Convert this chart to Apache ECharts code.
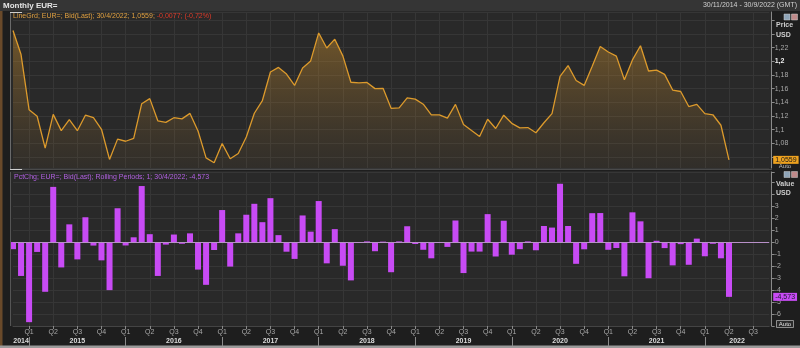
<!DOCTYPE html>
<html><head><meta charset="utf-8">
<script src="https://cdn.jsdelivr.net/npm/echarts@6/dist/echarts.min.js"></script>
<style>html,body{margin:0;padding:0;background:#1e1e1e;}#c{width:800px;height:348px;}</style>
</head><body><div id="c"></div>
<script>
const months = ['2014-11','2014-12',
'2015-01','2015-02','2015-03','2015-04','2015-05','2015-06','2015-07','2015-08','2015-09','2015-10','2015-11','2015-12',
'2016-01','2016-02','2016-03','2016-04','2016-05','2016-06','2016-07','2016-08','2016-09','2016-10','2016-11','2016-12',
'2017-01','2017-02','2017-03','2017-04','2017-05','2017-06','2017-07','2017-08','2017-09','2017-10','2017-11','2017-12',
'2018-01','2018-02','2018-03','2018-04','2018-05','2018-06','2018-07','2018-08','2018-09','2018-10','2018-11','2018-12',
'2019-01','2019-02','2019-03','2019-04','2019-05','2019-06','2019-07','2019-08','2019-09','2019-10','2019-11','2019-12',
'2020-01','2020-02','2020-03','2020-04','2020-05','2020-06','2020-07','2020-08','2020-09','2020-10','2020-11','2020-12',
'2021-01','2021-02','2021-03','2021-04','2021-05','2021-06','2021-07','2021-08','2021-09','2021-10','2021-11','2021-12',
'2022-01','2022-02','2022-03','2022-04','2022-05','2022-06','2022-07','2022-08','2022-09'];

const price = [1.2450,1.2098,1.1290,1.1196,1.0731,1.1224,1.0986,1.1147,1.0985,1.1211,1.1177,1.1006,1.0565,1.0862,
1.0831,1.0873,1.1380,1.1454,1.1130,1.1106,1.1175,1.1158,1.1238,1.0980,1.0588,1.0517,
1.0797,1.0576,1.0652,1.0894,1.1240,1.1426,1.1843,1.1910,1.1813,1.1646,1.1903,1.2005,
1.2414,1.2193,1.2323,1.2079,1.1693,1.1684,1.1690,1.1600,1.1604,1.1312,1.1318,1.1466,
1.1446,1.1372,1.1217,1.1216,1.1170,1.1370,1.1076,1.0987,1.0899,1.1152,1.1017,1.1212,
1.1093,1.1026,1.1031,1.0955,1.1101,1.1234,1.1779,1.1936,1.1719,1.1647,1.1927,1.2215,
1.2136,1.2075,1.1730,1.2020,1.2227,1.1858,1.1870,1.1809,1.1579,1.1558,1.1338,1.1370,
1.1235,1.1218,1.1065,1.0559];

const pctChange = [-0.60,-2.83,-6.68,-0.83,-4.15,4.59,-2.12,1.47,-1.45,2.06,-0.30,-1.53,-4.01,2.81,
-0.29,0.39,4.66,0.65,-2.83,-0.22,0.62,-0.15,0.72,-2.30,-3.57,-0.67,
2.66,-2.05,0.72,2.27,3.18,1.65,3.65,0.57,-0.81,-1.41,2.21,0.86,
3.41,-1.78,1.07,-1.98,-3.20,-0.08,0.05,-0.77,0.03,-2.52,0.05,1.31,
-0.17,-0.65,-1.36,-0.01,-0.41,1.79,-2.59,-0.80,-0.80,2.32,-1.21,1.77,
-1.06,-0.60,0.05,-0.69,1.33,1.20,4.85,1.33,-1.82,-0.61,2.40,2.41,
-0.65,-0.50,-2.86,2.47,1.72,-3.02,0.10,-0.51,-1.95,-0.18,-1.90,0.28,
-1.19,-0.15,-1.36,-4.573];

const priceTicks = [1.08,1.1,1.12,1.14,1.16,1.18,1.2,1.22];
const valueTicks = [3,2,1,0,-1,-2,-3,-4,-5,-6];
const quarterNames = {'01':'Q1','04':'Q2','07':'Q3','10':'Q4'};
const yearLabelMonths = ['2014-12','2015-07','2016-07','2017-07','2018-07','2019-07','2020-07','2021-07','2022-05'];

const isQuarter = (i) => quarterNames[months[i].slice(5)] !== undefined;
const isJan = (i) => months[i].slice(5) === '01';
const fmtNum = (v, d) => String(+v.toFixed(d)).replace('.', ',');

const chart = echarts.init(document.getElementById('c'), null, {renderer: 'canvas'});
const FONT = 'Liberation Sans, Arial, sans-serif';
const gridColor = '#363636';
const clear = 'rgba(0,0,0,0)';

chart.setOption({
  backgroundColor: '#1e1e1e',
  animation: false,
  textStyle: {fontFamily: FONT},
  grid: [
    {left: 13, right: 30.8, top: 12, bottom: 180},
    {left: 13, right: 30.8, top: 172, bottom: 22}
  ],
  xAxis: [
    {
      type: 'category', gridIndex: 0, data: months, boundaryGap: false,
      position: 'bottom', offset: 169,
      axisLine: {show: false},
      axisTick: {show: true, interval: (i) => isJan(i), length: 9, lineStyle: {color: '#8a8a8a'}},
      axisLabel: {
        show: true, margin: 1, showMinLabel: true, showMaxLabel: true,
        interval: (i) => yearLabelMonths.includes(months[i]),
        formatter: (v) => v.slice(0, 4),
        color: '#dcdcdc', fontSize: 7, fontWeight: 'bold', fontFamily: FONT
      },
      splitLine: {show: true, interval: (i) => isQuarter(i), lineStyle: {color: gridColor, width: 1}}
    },
    {
      type: 'category', gridIndex: 1, data: months, boundaryGap: false,
      position: 'bottom',
      axisLine: {show: true, onZero: false, lineStyle: {color: '#444'}},
      axisTick: {show: true, interval: (i) => isQuarter(i), length: 3, lineStyle: {color: '#8a8a8a'}},
      axisLabel: {
        show: true, margin: 3, showMinLabel: true, showMaxLabel: true,
        interval: (i) => isQuarter(i),
        formatter: (v) => quarterNames[v.slice(5)] || '',
        color: '#a8a8a8', fontSize: 7, fontFamily: FONT
      },
      splitLine: {show: true, interval: (i) => isQuarter(i), lineStyle: {color: gridColor, width: 1}}
    }
  ],
  yAxis: [
    {
      type: 'value', gridIndex: 0, position: 'right', offset: 2.5,
      min: 1.044, max: 1.272, splitNumber: 12,
      axisLine: {show: true, lineStyle: {color: '#8a8a8a'}},
      axisTick: {show: true, length: 3, lineStyle: {color: '#8a8a8a'}},
      axisLabel: {
        show: true, margin: 3, color: '#a8a8a8', fontSize: 7, fontFamily: FONT,
        showMinLabel: false, showMaxLabel: false,
        formatter: (v) => {
          const t = priceTicks.find(p => Math.abs(p - v) < 1e-6);
          if (t === undefined) return '';
          const s = fmtNum(t, 2);
          return t === 1.2 ? '{b|' + s + '}' : s;
        },
        rich: {b: {color: '#f0f0f0', fontWeight: 'bold', fontSize: 7, fontFamily: FONT}}
      },
      splitLine: {show: true, lineStyle: {color: gridColor}}
    },
    {
      type: 'value', gridIndex: 1, position: 'right', offset: 2.5,
      min: -7, max: 5.83, interval: 1,
      axisLine: {show: true, lineStyle: {color: '#8a8a8a'}},
      axisTick: {show: true, length: 3, lineStyle: {color: '#8a8a8a'}},
      axisLabel: {
        show: true, margin: 3, color: '#a8a8a8', fontSize: 7, fontFamily: FONT,
        formatter: (v) => valueTicks.some(t => Math.abs(t - v) < 1e-6) ? String(Math.round(v)) : ''
      },
      splitLine: {show: true, lineStyle: {color: gridColor}}
    }
  ],
  series: [
    {
      type: 'line', xAxisIndex: 0, yAxisIndex: 0, data: price,
      symbol: 'none', smooth: false,
      lineStyle: {color: '#dc9a2c', width: 1.3},
      areaStyle: {
        color: new echarts.graphic.LinearGradient(0, 0, 0, 1, [
          {offset: 0, color: 'rgba(215,150,45,0.6)'},
          {offset: 1, color: 'rgba(150,110,50,0.10)'}
        ])
      },
      markLine: {
        silent: true, symbol: 'none', precision: 4,
        data: [{yAxis: price[price.length - 1]}],
        lineStyle: {color: clear, width: 1, type: 'solid'},
        label: {
          show: true, position: 'end', distance: 4,
          formatter: () => fmtNum(price[price.length - 1], 4),
          backgroundColor: '#eea21f', color: '#1a1a1a', fontSize: 7, fontFamily: FONT,
          padding: [1, 2, 0, 2]
        }
      }
    },
    {
      type: 'bar', xAxisIndex: 1, yAxisIndex: 1, data: pctChange,
      barWidth: 6, clip: false,
      itemStyle: {color: '#c84bf5'},
      markLine: {
        silent: true, symbol: 'none', precision: 3,
        data: [
          {yAxis: 0, lineStyle: {color: '#b890c8', width: 1, type: 'solid'}, label: {show: false}},
          {
            yAxis: pctChange[pctChange.length - 1], lineStyle: {color: clear, width: 1, type: 'solid'},
            label: {
              show: true, position: 'end', distance: 4,
              formatter: () => fmtNum(pctChange[pctChange.length - 1], 3),
              backgroundColor: '#c84bf5', color: '#1a1a2a', fontSize: 7, fontFamily: FONT,
              padding: [1, 2, 0, 2]
            }
          }
        ]
      }
    }
  ],
  graphic: [
    {type: 'rect', z: -20, shape: {x: 0, y: 0, width: 800, height: 11}, style: {fill: '#353535'}},
    {type: 'rect', z: -20, shape: {x: 10, y: 11, width: 762, height: 158}, style: {fill: '#292929'}},
    {type: 'rect', z: -20, shape: {x: 10, y: 171, width: 762, height: 155}, style: {fill: '#292929'}},
    {type: 'rect', z: -19, shape: {x: 0, y: 11, width: 2.5, height: 337}, style: {fill: '#6a4a2a'}},
    {type: 'rect', z: -19, shape: {x: 0, y: 345.5, width: 800, height: 3}, style: {fill: '#9a9a9a'}},
    {type: 'line', z: 50, shape: {x1: 10.5, y1: 12, x2: 10.5, y2: 169}, style: {stroke: '#6a6a6a', lineWidth: 1}},
    {type: 'line', z: 50, shape: {x1: 10.5, y1: 172, x2: 10.5, y2: 326}, style: {stroke: '#555', lineWidth: 1}},
    {type: 'line', z: 50, shape: {x1: 10, y1: 169.5, x2: 772, y2: 169.5}, style: {stroke: '#4a4a4a', lineWidth: 1}},
    {type: 'line', z: 51, shape: {x1: 10, y1: 169.5, x2: 22, y2: 169.5}, style: {stroke: '#cfcfcf', lineWidth: 1}},
    {type: 'line', z: 51, shape: {x1: 10, y1: 12.5, x2: 22, y2: 12.5}, style: {stroke: '#cfcfcf', lineWidth: 1}},
    {type: 'text', z: 100, style: {text: 'Monthly EUR=', x: 3, y: 5.5, verticalAlign: 'middle', fill: '#e6e6e6', fontSize: 8, fontWeight: 'bold', fontFamily: FONT}},
    {type: 'text', z: 100, style: {text: '30/11/2014 - 30/9/2022 (GMT)', x: 797, y: 5.5, align: 'right', verticalAlign: 'middle', fill: '#d0d0d0', fontSize: 7, fontFamily: FONT}},
    {type: 'text', z: 100, style: {
      text: '{o|LineGrd; EUR=; Bid(Last); 30/4/2022; 1,0559; }{r|-0,0077; (-0,72%)}', x: 13, y: 16.5, verticalAlign: 'middle',
      rich: {o: {fill: '#e0a040', fontSize: 7, fontFamily: FONT}, r: {fill: '#e03a2a', fontSize: 7, fontFamily: FONT}}
    }},
    {type: 'text', z: 100, style: {text: 'PctChg; EUR=; Bid(Last); Rolling Periods; 1; 30/4/2022; -4,573', x: 14, y: 177, verticalAlign: 'middle', fill: '#b060e0', fontSize: 7, fontFamily: FONT}},
    {type: 'text', z: 100, style: {text: 'Price', x: 776, y: 25, verticalAlign: 'middle', fill: '#cfcfcf', fontSize: 7, fontWeight: 'bold', fontFamily: FONT}},
    {type: 'text', z: 100, style: {text: 'USD', x: 776, y: 35, verticalAlign: 'middle', fill: '#cfcfcf', fontSize: 7, fontWeight: 'bold', fontFamily: FONT}},
    {type: 'text', z: 100, style: {text: 'Value', x: 776, y: 184, verticalAlign: 'middle', fill: '#cfcfcf', fontSize: 7, fontWeight: 'bold', fontFamily: FONT}},
    {type: 'text', z: 100, style: {text: 'USD', x: 776, y: 193, verticalAlign: 'middle', fill: '#cfcfcf', fontSize: 7, fontWeight: 'bold', fontFamily: FONT}},
    {type: 'rect', z: 100, shape: {x: 784, y: 14, width: 6, height: 6}, style: {fill: '#8ea4b8', stroke: '#ccc', lineWidth: 0.5}},
    {type: 'rect', z: 100, shape: {x: 791.5, y: 14, width: 6, height: 6}, style: {fill: '#c08a8a', stroke: '#ccc', lineWidth: 0.5}},
    {type: 'rect', z: 100, shape: {x: 784, y: 171.5, width: 6, height: 6}, style: {fill: '#8ea4b8', stroke: '#ccc', lineWidth: 0.5}},
    {type: 'rect', z: 100, shape: {x: 791.5, y: 171.5, width: 6, height: 6}, style: {fill: '#c08a8a', stroke: '#ccc', lineWidth: 0.5}},
    {type: 'rect', z: 100, shape: {x: 776.5, y: 320.5, width: 17, height: 7}, style: {fill: '#2a2a2a', stroke: '#bbb', lineWidth: 0.7}},
    {type: 'text', z: 101, style: {text: 'Auto', x: 785, y: 324.2, align: 'center', verticalAlign: 'middle', fill: '#e0e0e0', fontSize: 6, fontFamily: FONT}},
    {type: 'text', z: 99, style: {text: 'Auto', x: 785, y: 166.5, align: 'center', verticalAlign: 'middle', fill: '#bbbbbb', fontSize: 6, fontFamily: FONT}}
  ]
});
</script></body></html>
